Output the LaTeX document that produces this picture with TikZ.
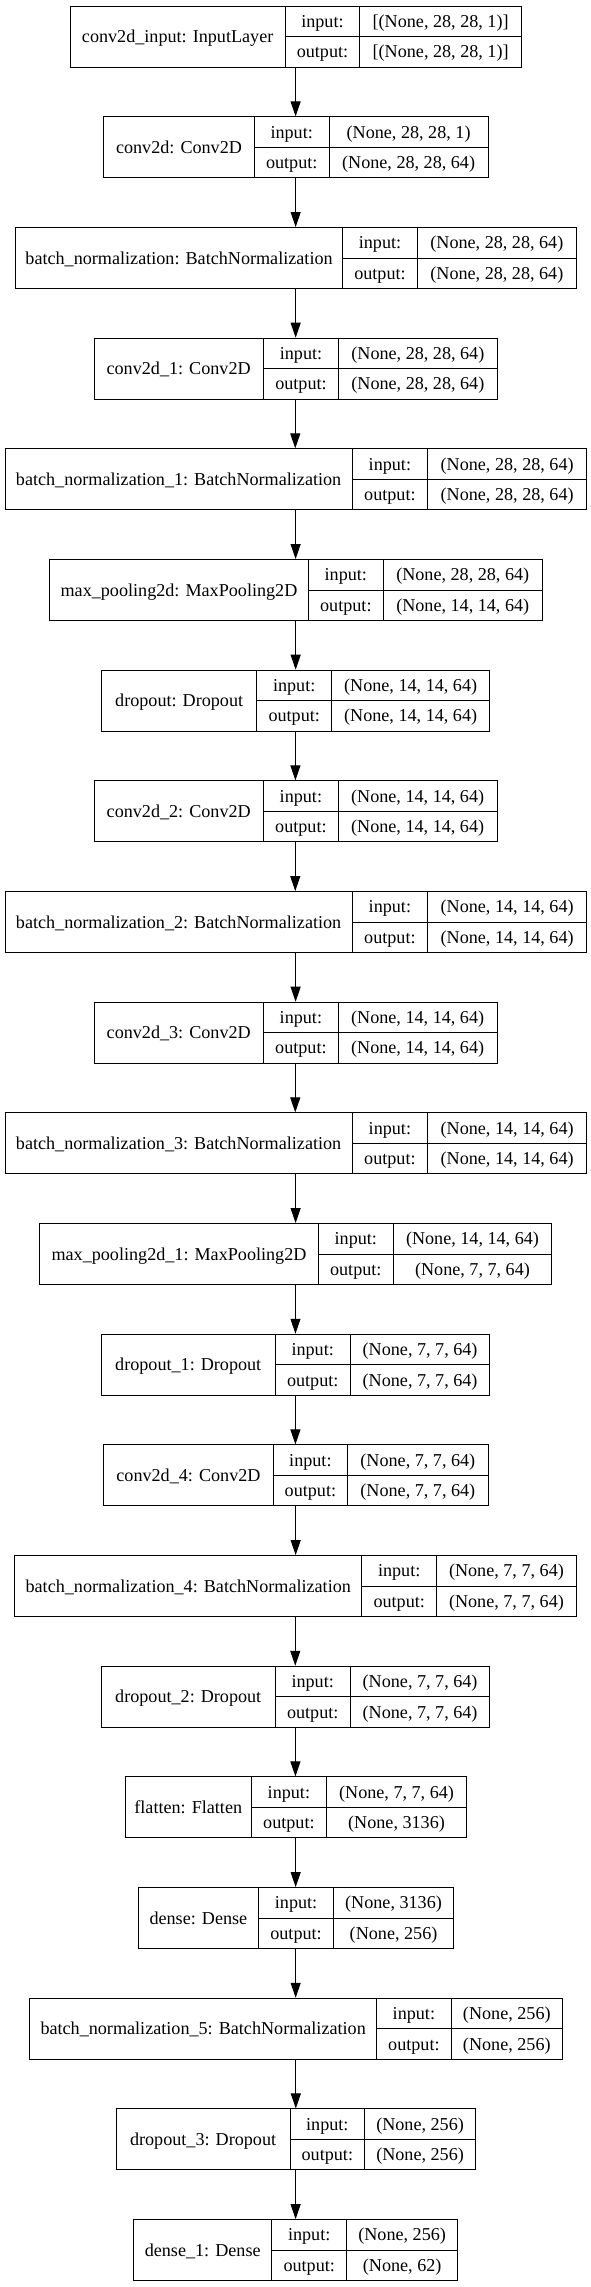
\documentclass[tikz,border=0pt]{standalone}
\usepackage{fontspec}
\setmainfont{Liberation Serif}
\usetikzlibrary{arrows.meta}
\newcommand\lay[8]{%
  \pgfmathsetmacro\ty{5.7+110.67*#1}%
  \pgfmathsetmacro\my{\ty+30.5}%
  \pgfmathsetmacro\wa{(#3-#2)*0.75}%
  \pgfmathsetmacro\wb{(#4-#3)*0.75}%
  \pgfmathsetmacro\wc{(#5-#4)*0.75}%
  \pgfmathsetmacro\wt{(#5-#2)*0.75}%
  \node[whole, minimum width=\wt pt, anchor=north west] (b#1) at (#2,\ty) {};
  \node[cell, minimum width=\wa pt, minimum height=45.75pt, anchor=north west] (n#1) at (#2,\ty) {#6};
  \node[cell, minimum width=\wb pt, anchor=north west] (ik#1) at (#3,\ty) {input:};
  \node[cell, minimum width=\wb pt, anchor=north west] (ok#1) at (#3,\my) {output:};
  \node[cell, minimum width=\wc pt, anchor=north west] (iv#1) at (#4,\ty) {#7};
  \node[cell, minimum width=\wc pt, anchor=north west] (ov#1) at (#4,\my) {#8};
}
\begin{document}
\begin{tikzpicture}[x=0.75pt,y=-0.75pt,
  cell/.style={draw=black, line width=0.75pt, inner sep=0pt, minimum height=22.875pt,
    font=\fontsize{13.6}{16}\selectfont, text height=11pt, text depth=2pt, align=center},
  whole/.style={draw=none, inner sep=0pt, minimum height=45.75pt},
  arr/.style={line width=0.75pt, -{Triangle[length=11.25pt,width=7.5pt]}}]
\useasboundingbox[fill=white] (0,0) rectangle (591,2287);
\lay{0}{69.7}{284.6}{359.3}{521}{conv2d\_input: InputLayer}{[(None, 28, 28, 1)]}{[(None, 28, 28, 1)]}
\lay{1}{103.3}{253.7}{328.7}{487.5}{conv2d: Conv2D}{(None, 28, 28, 1)}{(None, 28, 28, 64)}
\lay{2}{15.1}{342}{417}{575.7}{batch\_normalization: BatchNormalization}{(None, 28, 28, 64)}{(None, 28, 28, 64)}
\lay{3}{93.5}{262.8}{338.2}{496.5}{conv2d\_1: Conv2D}{(None, 28, 28, 64)}{(None, 28, 28, 64)}
\lay{4}{4.5}{351.7}{427.1}{586.2}{batch\_normalization\_1: BatchNormalization}{(None, 28, 28, 64)}{(None, 28, 28, 64)}
\lay{5}{49}{308}{382.7}{541.8}{max\_pooling2d: MaxPooling2D}{(None, 28, 28, 64)}{(None, 14, 14, 64)}
\lay{6}{101}{256.4}{331}{489.3}{dropout: Dropout}{(None, 14, 14, 64)}{(None, 14, 14, 64)}
\lay{7}{93.5}{263}{337.8}{496.5}{conv2d\_2: Conv2D}{(None, 14, 14, 64)}{(None, 14, 14, 64)}
\lay{8}{4.5}{351.7}{427.1}{586.2}{batch\_normalization\_2: BatchNormalization}{(None, 14, 14, 64)}{(None, 14, 14, 64)}
\lay{9}{93.5}{263}{337.8}{496.5}{conv2d\_3: Conv2D}{(None, 14, 14, 64)}{(None, 14, 14, 64)}
\lay{10}{4.5}{351.7}{427.1}{586.2}{batch\_normalization\_3: BatchNormalization}{(None, 14, 14, 64)}{(None, 14, 14, 64)}
\lay{11}{39.2}{317.8}{392.8}{551.2}{max\_pooling2d\_1: MaxPooling2D}{(None, 14, 14, 64)}{(None, 7, 7, 64)}
\lay{12}{101}{274.5}{349.9}{489.3}{dropout\_1: Dropout}{(None, 7, 7, 64)}{(None, 7, 7, 64)}
\lay{13}{103.3}{272.6}{347.2}{487.5}{conv2d\_4: Conv2D}{(None, 7, 7, 64)}{(None, 7, 7, 64)}
\lay{14}{14.3}{361.2}{436.2}{575.7}{batch\_normalization\_4: BatchNormalization}{(None, 7, 7, 64)}{(None, 7, 7, 64)}
\lay{15}{101}{274.5}{349.9}{489.3}{dropout\_2: Dropout}{(None, 7, 7, 64)}{(None, 7, 7, 64)}
\lay{16}{124.8}{250.7}{326.1}{466}{flatten: Flatten}{(None, 7, 7, 64)}{(None, 3136)}
\lay{17}{137.6}{258.2}{332.9}{453.2}{dense: Dense}{(None, 3136)}{(None, 256)}
\lay{18}{29.4}{375.9}{450.9}{561.7}{batch\_normalization\_5: BatchNormalization}{(None, 256)}{(None, 256)}
\lay{19}{115.7}{289.5}{364.2}{475}{dropout\_3: Dropout}{(None, 256)}{(None, 256)}
\lay{20}{133}{271.4}{346}{457.3}{dense\_1: Dense}{(None, 256)}{(None, 62)}
\foreach \i [evaluate=\i as \j using int(\i+1)] in {0,...,19}
  \draw[arr] (b\i.south) -- (b\i.south |- b\j.north);
\end{tikzpicture}
\end{document}
